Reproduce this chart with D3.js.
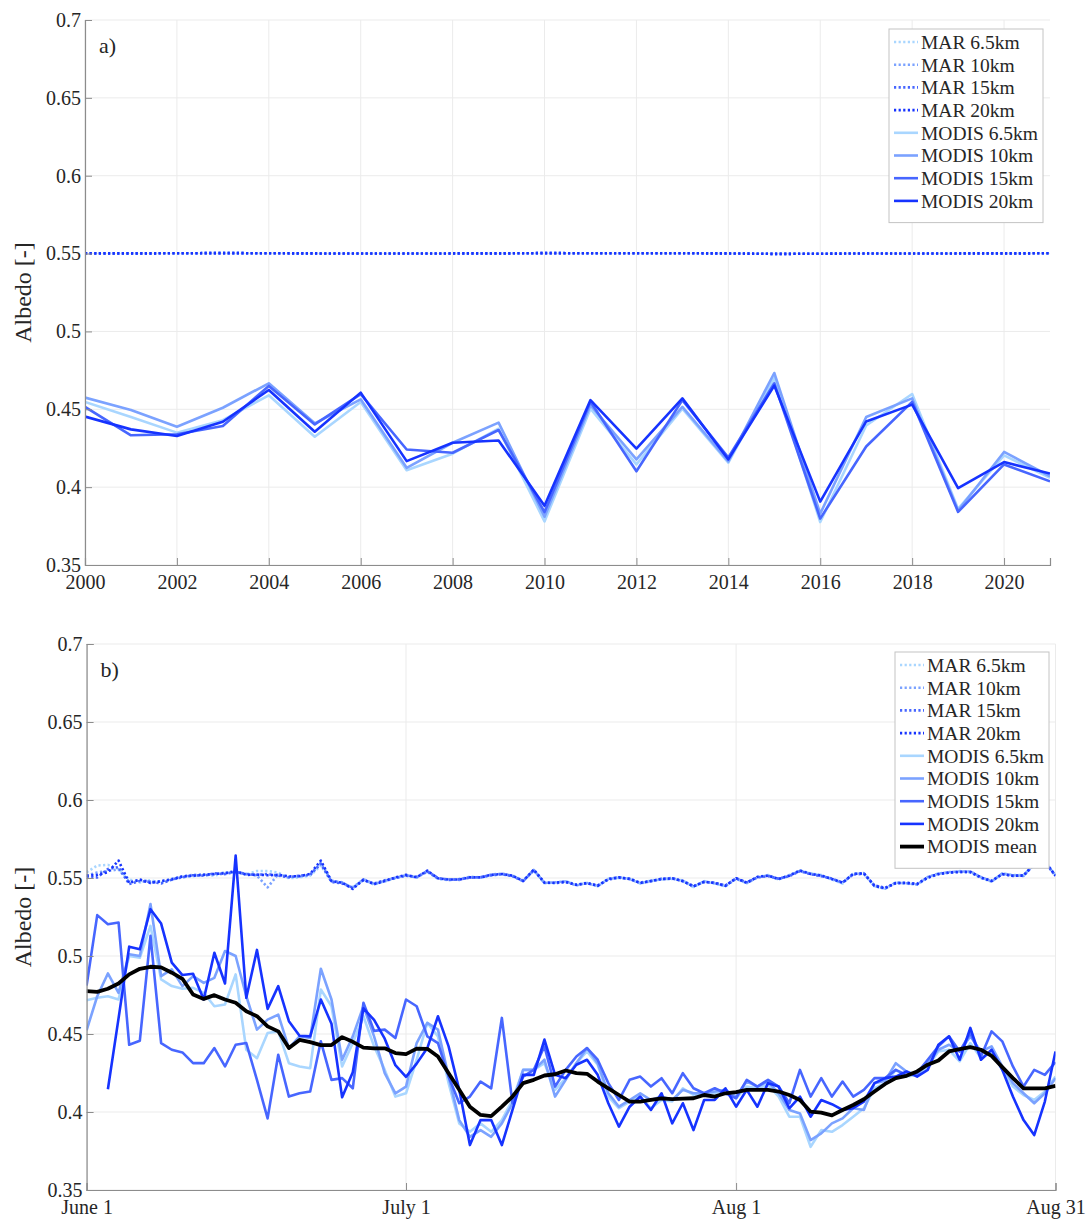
<!DOCTYPE html>
<html><head><meta charset="utf-8">
<script src="https://cdn.jsdelivr.net/npm/d3@7"></script>
<style>
body{margin:0;background:#fff}
text{font-family:"Liberation Serif","Times New Roman",serif;fill:#262626}
</style>
</head><body><svg id="c" width="1089" height="1219"></svg>
<script>
// ---------- Panel a: yearly means ----------
const years = [2000,2001,2002,2003,2004,2005,2006,2007,2008,2009,2010,2011,2012,2013,2014,2015,2016,2017,2018,2019,2020,2021];
const yearTicks = [2000,2002,2004,2006,2008,2010,2012,2014,2016,2018,2020];
const marA_65 = [0.5501,0.5501,0.5502,0.5503,0.5502,0.5500,0.5500,0.5500,0.5501,0.5501,0.5502,0.5502,0.5502,0.5502,0.5501,0.5499,0.5499,0.5501,0.5500,0.5501,0.5501,0.5502];
const marA_10 = [0.5502,0.5501,0.5502,0.5503,0.5502,0.5501,0.5500,0.5500,0.5501,0.5501,0.5503,0.5502,0.5502,0.5502,0.5501,0.5498,0.5499,0.5501,0.5500,0.5501,0.5501,0.5502];
const marA_15 = [0.5502,0.5501,0.5502,0.5503,0.5502,0.5501,0.5500,0.5500,0.5501,0.5501,0.5503,0.5502,0.5502,0.5502,0.5501,0.5498,0.5499,0.5501,0.5500,0.5501,0.5501,0.5502];
const marA_20 = [0.5501,0.5501,0.5502,0.5503,0.5502,0.5501,0.5500,0.5500,0.5501,0.5501,0.5503,0.5502,0.5502,0.5502,0.5501,0.5498,0.5499,0.5501,0.5500,0.5501,0.5501,0.5502];
const modisA_65 = [0.4547,0.4450,0.4350,0.4430,0.4590,0.4324,0.4547,0.4109,0.4215,0.4375,0.3780,0.4504,0.4146,0.4504,0.4157,0.4700,0.3776,0.4396,0.4598,0.3860,0.4204,0.4059];
const modisA_10 = [0.4575,0.4496,0.4388,0.4510,0.4667,0.4410,0.4564,0.4124,0.4285,0.4414,0.3810,0.4526,0.4178,0.4515,0.4165,0.4733,0.3830,0.4450,0.4570,0.3850,0.4226,0.4070];
const modisA_15 = [0.4515,0.4333,0.4340,0.4393,0.4650,0.4403,0.4597,0.4242,0.4221,0.4367,0.3840,0.4548,0.4102,0.4559,0.4190,0.4667,0.3798,0.4261,0.4548,0.3841,0.4146,0.4037];
const modisA_20 = [0.4453,0.4371,0.4328,0.4420,0.4624,0.4356,0.4607,0.4167,0.4285,0.4300,0.3880,0.4559,0.4248,0.4570,0.4178,0.4652,0.3907,0.4422,0.4530,0.3993,0.4161,0.4087];

// ---------- Panel b: daily values June 1 - Aug 31 ----------
const dayStart = new Date(2021,5,1), dayEnd = new Date(2021,7,31);
const dayTickDates = [new Date(2021,5,1), new Date(2021,6,1), new Date(2021,7,1), new Date(2021,7,31)];
const dayTickLabels = ["June 1","July 1","Aug 1","Aug 31"];
const marB_65 = [0.5537,0.558,0.5584,0.5558,0.549,0.5472,0.5485,0.547,0.5488,0.5505,
0.5512,0.552,0.5515,0.5532,0.5538,0.5522,0.5545,0.5545,0.5535,0.5498,
0.5505,0.5515,0.558,0.5478,0.5468,0.5442,0.5488,0.5458,0.5478,0.5498,
0.5515,0.5506,0.5538,0.5494,0.5486,0.5494,0.5508,0.5504,0.5516,0.5522,
0.5517,0.5484,0.5548,0.5466,0.5466,0.548,0.5457,0.547,0.5446,0.5496,
0.55,0.5498,0.5464,0.5484,0.549,0.5494,0.5484,0.5442,0.548,0.5464,
0.5446,0.5494,0.5466,0.5502,0.5519,0.549,0.5519,0.5545,0.553,0.5519,
0.549,0.5464,0.553,0.5526,0.5446,0.543,0.5472,0.5464,0.5457,0.55,
0.553,0.5532,0.5544,0.5536,0.55,0.5476,0.553,0.5519,0.5519,0.5588,
0.5603,0.5519];
const marB_10 = [0.5515,0.5535,0.5545,0.5555,0.5475,0.5488,0.5478,0.5478,0.5495,0.551,
0.552,0.5522,0.5525,0.5535,0.5535,0.5525,0.5515,0.544,0.5525,0.5505,
0.551,0.5522,0.5598,0.5482,0.5472,0.5435,0.5492,0.5462,0.5482,0.5502,
0.5518,0.5502,0.5545,0.5496,0.5492,0.5488,0.5506,0.5502,0.5522,0.5528,
0.5513,0.5478,0.5552,0.5468,0.5472,0.5478,0.5453,0.5468,0.5448,0.5492,
0.5506,0.5492,0.5466,0.5478,0.5496,0.55,0.5478,0.5444,0.5478,0.5466,
0.5448,0.55,0.5468,0.5508,0.5517,0.5492,0.5517,0.5549,0.5528,0.5517,
0.5492,0.5468,0.5528,0.5532,0.5448,0.5432,0.547,0.5466,0.5459,0.5506,
0.5528,0.5538,0.5542,0.5542,0.5506,0.5478,0.5528,0.5517,0.5513,0.5592,
0.5607,0.5517];
const marB_15 = [0.5504,0.5504,0.5558,0.557,0.5461,0.548,0.5475,0.5465,0.549,0.5505,
0.5518,0.5515,0.553,0.5525,0.554,0.5525,0.552,0.5525,0.5515,0.5505,
0.5515,0.552,0.559,0.5475,0.5465,0.5438,0.5485,0.5465,0.5485,0.55,
0.5515,0.5508,0.5542,0.55,0.5488,0.5492,0.5502,0.5506,0.5518,0.5524,
0.5512,0.5482,0.555,0.5472,0.5468,0.5474,0.5458,0.5466,0.5452,0.549,
0.5502,0.5496,0.547,0.5482,0.5492,0.5496,0.5482,0.5448,0.5474,0.547,
0.5452,0.5496,0.5472,0.5504,0.5512,0.5496,0.5512,0.5544,0.5524,0.5512,
0.5496,0.5472,0.5522,0.5528,0.5452,0.5438,0.5466,0.547,0.5463,0.5502,
0.5524,0.5534,0.5538,0.5537,0.5502,0.5482,0.5524,0.5513,0.5517,0.5586,
0.5602,0.5513];
const marB_20 = [0.5515,0.552,0.5537,0.5612,0.5468,0.549,0.5468,0.548,0.549,0.551,
0.5515,0.552,0.5526,0.553,0.5545,0.552,0.5522,0.5518,0.552,0.551,
0.5512,0.5526,0.5612,0.548,0.547,0.543,0.549,0.546,0.548,0.5504,
0.552,0.5504,0.5547,0.5498,0.549,0.549,0.5504,0.5504,0.552,0.5526,
0.5515,0.548,0.5554,0.547,0.547,0.5476,0.5455,0.5468,0.545,0.5494,
0.5504,0.5494,0.5468,0.548,0.5494,0.5498,0.548,0.5446,0.5476,0.5468,
0.545,0.5498,0.547,0.5506,0.5515,0.5494,0.5515,0.5547,0.5526,0.5515,
0.5494,0.547,0.5526,0.553,0.545,0.5434,0.5468,0.5468,0.5461,0.5504,
0.5526,0.5536,0.554,0.554,0.5504,0.548,0.5526,0.5515,0.5515,0.559,
0.5605,0.5515];
const modisB_65 = [0.4717,0.4732,0.4742,0.4721,0.5,0.4989,0.5193,0.485,0.4807,0.479,
0.4796,0.4764,0.4678,0.4689,0.4882,0.4399,0.4345,0.4506,0.4517,0.4313,
0.4292,0.4281,0.4785,0.4678,0.4292,0.4442,0.4614,0.4421,0.427,0.4099,
0.412,0.4335,0.4571,0.4485,0.4185,0.3927,0.3873,0.3927,0.3873,0.3948,
0.4077,0.427,0.427,0.4313,0.4142,0.4217,0.4313,0.4388,0.4303,0.4099,
0.4024,0.4067,0.4099,0.4024,0.4077,0.4067,0.4152,0.4109,0.412,0.412,
0.4142,0.4088,0.4163,0.4152,0.4174,0.4099,0.397,0.397,0.3777,0.3884,
0.3873,0.3916,0.397,0.4024,0.4152,0.4185,0.427,0.4227,0.4238,0.4292,
0.4388,0.4399,0.4325,0.4442,0.4346,0.4388,0.427,0.4163,0.4109,0.4077,
0.4131,0.4227];
const modisB_10 = [0.4524,0.4742,0.4888,0.4764,0.5011,0.5,0.5333,0.4871,0.4914,0.4807,
0.4871,0.4828,0.486,0.5032,0.5,0.4742,0.4528,0.4592,0.4624,0.441,
0.4485,0.4474,0.4918,0.4721,0.4335,0.4485,0.4678,0.4485,0.4249,0.412,
0.4163,0.4442,0.4571,0.4528,0.4227,0.3948,0.3841,0.3884,0.3841,0.3927,
0.4056,0.427,0.427,0.4335,0.4099,0.4206,0.4313,0.441,0.4313,0.412,
0.4034,0.4077,0.412,0.4077,0.4099,0.4077,0.4142,0.412,0.412,0.4131,
0.4142,0.4099,0.4195,0.4163,0.4195,0.412,0.4013,0.3991,0.382,0.3863,
0.3927,0.3959,0.4024,0.4013,0.4185,0.42,0.4313,0.426,0.4238,0.4313,
0.4399,0.4431,0.4388,0.4485,0.4388,0.4421,0.4292,0.4185,0.412,0.4056,
0.412,0.4217];
const modisB_15 = [0.4811,0.5262,0.5204,0.5215,0.4431,0.4457,0.5129,0.4442,0.4399,0.4382,
0.4313,0.4313,0.441,0.4292,0.4431,0.4442,0.4206,0.3959,0.4367,0.4099,
0.412,0.4131,0.4453,0.4206,0.4217,0.4152,0.47,0.452,0.4528,0.4474,
0.4721,0.4678,0.4485,0.4442,0.4227,0.4056,0.4099,0.4195,0.4152,0.4603,
0.4056,0.4227,0.427,0.4421,0.4163,0.427,0.4356,0.441,0.4335,0.4185,
0.4077,0.4206,0.4227,0.4163,0.4217,0.412,0.4249,0.4152,0.412,0.4152,
0.412,0.4088,0.4206,0.4163,0.4206,0.4163,0.4056,0.427,0.4099,0.4217,
0.4099,0.4195,0.4099,0.4142,0.4217,0.4217,0.427,0.4238,0.4249,0.4335,
0.4421,0.4485,0.4388,0.4506,0.4356,0.4517,0.4453,0.4292,0.4163,0.427,
0.4238,0.432];
const modisB_20 = [null,null,0.4146,0.46,0.506,0.5043,0.53,0.5208,0.4957,0.4878,
0.4886,0.4721,0.5021,0.4824,0.5644,0.4732,0.5039,0.4661,0.4807,0.4582,
0.4489,0.4485,0.4721,0.4566,0.4094,0.4255,0.4665,0.459,0.447,0.43,
0.4225,0.431,0.441,0.4614,0.4421,0.4142,0.3788,0.3948,0.3948,0.3788,
0.4013,0.4238,0.4238,0.4464,0.4238,0.4217,0.4303,0.4335,0.4238,0.4056,
0.3906,0.4034,0.4099,0.4013,0.412,0.3927,0.4056,0.3884,0.4077,0.4077,
0.4152,0.4034,0.4142,0.4034,0.4185,0.4163,0.4024,0.4099,0.397,0.4077,
0.405,0.4013,0.4024,0.4067,0.4185,0.4217,0.4227,0.426,0.4227,0.427,
0.4431,0.4485,0.4335,0.4539,0.4335,0.4399,0.427,0.4099,0.3948,0.3852,
0.4067,0.4388];
const modisB_mean = [0.4775,0.477,0.479,0.4824,0.4882,0.4918,0.4931,0.4927,0.4893,0.4854,
0.4753,0.4725,0.4749,0.4721,0.47,0.4646,0.4614,0.4549,0.4517,0.441,
0.4462,0.4448,0.4429,0.4429,0.448,0.445,0.4413,0.4408,0.4408,0.4378,
0.4371,0.4406,0.4405,0.4356,0.4249,0.4142,0.4034,0.3981,0.3974,0.4034,
0.4099,0.4185,0.4206,0.4234,0.4242,0.4266,0.4249,0.4245,0.4195,0.4152,
0.4109,0.4067,0.4067,0.4077,0.4088,0.4082,0.4086,0.4088,0.4109,0.4099,
0.412,0.4127,0.4142,0.4142,0.4142,0.4131,0.4109,0.4077,0.4002,0.3996,
0.3978,0.4013,0.4045,0.4082,0.4131,0.418,0.4217,0.4232,0.426,0.4303,
0.433,0.4388,0.4403,0.4416,0.4399,0.436,0.4288,0.4217,0.4152,0.4152,
0.4152,0.4167];

const yTicks = [0.35,0.4,0.45,0.5,0.55,0.6,0.65,0.7];
const yTickLabels = ["0.35","0.4","0.45","0.5","0.55","0.6","0.65","0.7"];
const seriesNamesA = ["MAR 6.5km","MAR 10km","MAR 15km","MAR 20km","MODIS 6.5km","MODIS 10km","MODIS 15km","MODIS 20km"];
const seriesNamesB = ["MAR 6.5km","MAR 10km","MAR 15km","MAR 20km","MODIS 6.5km","MODIS 10km","MODIS 15km","MODIS 20km","MODIS mean"];

// ---------- styles ----------
const C = ["#a9d6ff","#7ba2ff","#4766ff","#1633ff"];
const styleOf = (name) => {
  if (name === "MODIS mean") return {color:"#000", w:3.8, dash:null};
  const i = name.includes("6.5") ? 0 : name.includes("10km") ? 1 : name.includes("15km") ? 2 : 3;
  return name.startsWith("MAR") ? {color:C[i], w:2.6, dash:"2.2,2.4"} : {color:C[i], w:2.6, dash:null};
};

const svg = d3.select("#c");
const days = d3.timeDay.range(dayStart, d3.timeDay.offset(dayEnd,1));

function panel(o) {
  const g = svg.append("g");
  const x = o.x, y = o.y;
  const [x0,x1] = x.range(), [yb,yt] = y.range();
  // grid
  g.append("g").selectAll("line").data(yTicks).join("line")
    .attr("x1",x0).attr("x2",x1).attr("y1",d=>y(d)).attr("y2",d=>y(d))
    .attr("stroke","#ebebeb").attr("stroke-width",1);
  g.append("g").selectAll("line").data(o.xTicks).join("line")
    .attr("x1",d=>x(d)).attr("x2",d=>x(d)).attr("y1",yb).attr("y2",yt)
    .attr("stroke","#ebebeb").attr("stroke-width",1);
  // clip
  const cid = "clip"+o.id;
  svg.append("clipPath").attr("id",cid).append("rect")
    .attr("x",x0).attr("y",yt-2).attr("width",x1-x0).attr("height",yb-yt+2);
  const lines = g.append("g").attr("clip-path",`url(#${cid})`);
  o.series.forEach((s) => {
    const st = styleOf(s.name);
    const line = d3.line().defined(d=>d[1]!=null).x(d=>x(d[0])).y(d=>y(d[1]));
    lines.append("path").datum(o.xs.map((v,i)=>[v,s.values[i]]))
      .attr("d",line).attr("fill","none").attr("stroke",st.color)
      .attr("stroke-width",st.w).attr("stroke-linejoin","round")
      .attr("stroke-dasharray",st.dash);
  });
  // axes
  const ax = d3.axisBottom(x).tickValues(o.xTicks).tickSize(-7).tickPadding(12)
    .tickFormat((d,i)=>o.xTickLabels[i]);
  const gx = g.append("g").attr("transform",`translate(0,${yb})`).call(ax);
  const ay = d3.axisLeft(y).tickValues(yTicks).tickSize(-7).tickPadding(4)
    .tickFormat((d,i)=>yTickLabels[i]);
  const gy = g.append("g").attr("transform",`translate(${x0},0)`).call(ay);
  [gx,gy].forEach(a=>{
    a.select(".domain").attr("stroke","#8c8c8c").attr("stroke-width",1.2);
    a.selectAll(".tick line").attr("stroke","#8c8c8c");
    a.selectAll("text").attr("font-size",20).attr("font-family","Liberation Serif, serif").attr("fill","#262626");
  });
  gx.selectAll("text").attr("dy","0.6em");
  // y label
  g.append("text").attr("transform",`translate(31,${(yb+yt)/2}) rotate(-90)`)
    .attr("text-anchor","middle").attr("font-size",24).text("Albedo [-]");
  // panel letter
  g.append("text").attr("x",x0+14).attr("y",yt+33).attr("font-size",22).text(o.letter);
  // legend
  const L = o.legend;
  const n = o.series.length;
  const lg = g.append("g");
  lg.append("rect").attr("x",L.x).attr("y",L.y).attr("width",L.w).attr("height",L.rowH*n+12)
    .attr("fill","#fff").attr("stroke","#c4c4c4").attr("stroke-width",1);
  o.series.forEach((s,i)=>{
    const st = styleOf(s.name);
    const cy = L.y + 13 + i*L.rowH;
    lg.append("line").attr("x1",L.x+5).attr("x2",L.x+29).attr("y1",cy).attr("y2",cy)
      .attr("stroke",st.color).attr("stroke-width",st.w).attr("stroke-dasharray",st.dash);
    lg.append("text").attr("x",L.x+32).attr("y",cy).attr("dy","0.35em")
      .attr("font-size",19.5).text(s.name);
  });
}

const modisA = [modisA_65, modisA_10, modisA_15, modisA_20];
const marA = [marA_65, marA_10, marA_15, marA_20];
panel({
  id:"a", letter:"a)",
  x: d3.scaleLinear().domain([2000,2021]).range([85,1050]),
  y: d3.scaleLinear().domain([0.35,0.7]).range([565,20]),
  xs: years, xTicks: yearTicks, xTickLabels: yearTicks.map(String),
  series: seriesNamesA.map((nm,i)=>({name:nm, values: i<4 ? marA[i] : modisA[i-4]})),
  legend:{x:889, y:29, w:154, rowH:22.7}
});

const modisB = [modisB_65, modisB_10, modisB_15, modisB_20, modisB_mean];
const marB = [marB_65, marB_10, marB_15, marB_20];
panel({
  id:"b", letter:"b)",
  x: d3.scaleTime().domain([dayStart, dayEnd]).range([86.6,1055.5]),
  y: d3.scaleLinear().domain([0.35,0.7]).range([1190,644]),
  xs: days, xTicks: dayTickDates, xTickLabels: dayTickLabels,
  series: seriesNamesB.map((nm,i)=>({name:nm, values: i<4 ? marB[i] : modisB[i-4]})),
  legend:{x:895, y:652, w:154, rowH:22.7}
});
</script>
</body></html>
